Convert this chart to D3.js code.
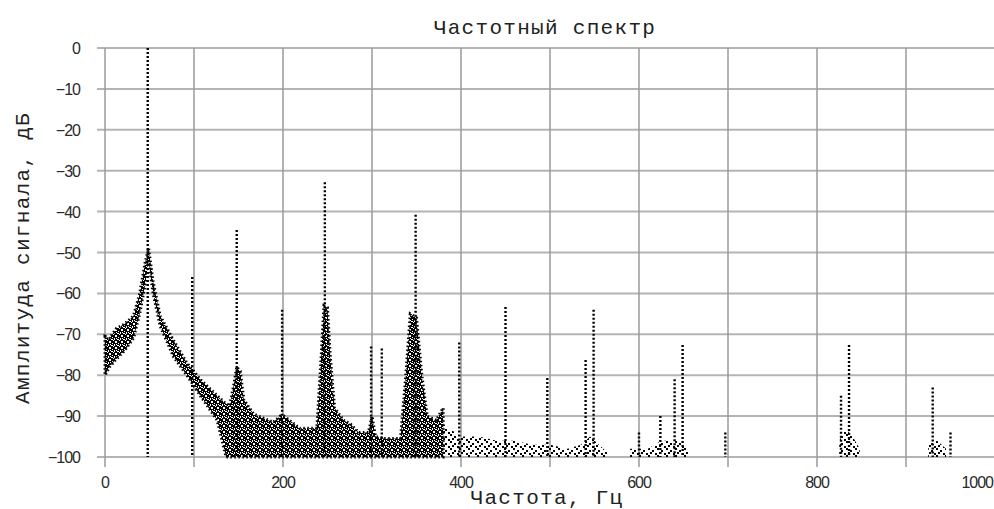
<!DOCTYPE html>
<html>
<head>
<meta charset="utf-8">
<script src="https://cdn.jsdelivr.net/npm/d3@7"></script>
<style>
    body { margin: 0; background: #fff; }
    .grid-h { stroke: #b4b4b4; stroke-width: 2; }
    .grid-v { stroke: #9a9a9a; stroke-width: 1.5; }
    .tick-label { font-family: "Liberation Sans", Arial, sans-serif; font-size: 16px; fill: #2a2a2a; letter-spacing: -1px; }
    .caption { font-family: "Liberation Mono", "Courier New", monospace; font-size: 21px; fill: #222; letter-spacing: 1.3px; }
    .stem { stroke: #000; stroke-width: 2.4; stroke-dasharray: 2, 2; fill: none; }
    .fuzz { fill: none; stroke: #000; stroke-width: 3; stroke-dasharray: 1.5, 2.5; }
</style>
</head>
<body>
<svg class="scene"></svg>
<script>

//
// data
//

// spectral lines: frequency (Hz) and top of line (dB)
var peakFreq = [48, 98, 148, 199, 247, 299, 311, 349, 398, 450, 497, 540, 549, 600, 624, 640, 649, 697, 827, 836, 930, 950];
var peakTop  = [0, -56, -44.5, -64, -32.8, -73, -73.5, -40.8, -72, -63.3, -80.7, -76.3, -64, -94, -90, -81, -72.6, -94, -85, -72.6, -83, -94];

// dense noise cloud: frequency, upper and lower edge (dB)
var cloudFreq  = [0, 5, 13, 22, 32, 39, 45, 49, 54, 62, 77, 92, 107, 126, 136, 140, 145, 148, 152, 156, 167, 189, 197, 201, 219, 238, 243, 246, 250, 253, 258, 268, 276, 285, 296, 300, 304, 313, 332, 338, 343, 350, 356, 362, 372, 380];
var cloudUpper = [-70.5, -71, -68.5, -67.5, -65.5, -60, -52.5, -49, -57, -65.5, -71.5, -77, -81, -85, -87, -87.5, -82, -78, -79, -86, -89.5, -91.5, -90, -90, -93, -93, -75, -63, -63.5, -75, -88, -91, -92, -94, -94, -90, -95, -95.5, -95.5, -80, -65, -66, -80, -90, -91, -88];
var cloudLower = [-80, -78, -76, -74, -71, -65, -58, -52, -60, -68, -75.5, -80, -85, -91, -100, -100, -100, -100, -100, -100, -100, -100, -100, -100, -100, -100, -100, -100, -100, -100, -100, -100, -100, -100, -100, -100, -100, -100, -100, -100, -100, -100, -100, -100, -100, -100];

// sparse points near the floor (null = gap)
var sparseFreq  = [380, 400, 420, 440, 460, 480, 500, 520, 535, 545, 555, 565, 570, 590, 610, 625, 645, 655, 660, 825, 832, 840, 848, 850, 925, 935, 945];
var sparseUpper = [-92, -95, -95, -96, -96, -97, -97, -98, -97, -95, -97, -99, null, -98, -98, -96, -96, -98, null, -96, -93, -95, -98, null, -97, -96, -98];

var xTicks = [0, 100, 200, 300, 400, 500, 600, 700, 800, 900, 1000];
var xLabels = [0, 200, 400, 600, 800, 1000];
var yTicks = [0, -10, -20, -30, -40, -50, -60, -70, -80, -90, -100];

//
// scene
//

var width = 994,
    height = 509;

var scene = d3.select(".scene")
    .attr("width", width)
    .attr("height", height);

var x = d3.scaleLinear().domain([0, 1000]).range([105, 995]);
var y = d3.scaleLinear().domain([0, -100]).range([48, 457]);
var fmt = d3.format("d");

//
// patterns
//

var defs = scene.append("defs");

var dense = defs.append("pattern")
    .attr("id", "dense")
    .attr("width", 6)
    .attr("height", 6)
    .attr("patternUnits", "userSpaceOnUse");
dense.append("rect").attr("width", 6).attr("height", 6).attr("fill", "#000");
[[1, 0, 2, 1], [4, 1, 1, 1], [0, 2, 1, 2], [3, 3, 2, 1], [5, 4, 1, 1], [1, 5, 2, 1], [2, 2, 1, 1]].forEach(function (r) {
    dense.append("rect")
        .attr("x", r[0]).attr("y", r[1])
        .attr("width", r[2]).attr("height", r[3])
        .attr("fill", "#fff");
});

var sparse = defs.append("pattern")
    .attr("id", "sparse")
    .attr("width", 9)
    .attr("height", 7)
    .attr("patternUnits", "userSpaceOnUse");
[[0, 0], [4, 2], [7, 5], [2, 4]].forEach(function (r) {
    sparse.append("rect")
        .attr("x", r[0]).attr("y", r[1])
        .attr("width", 2).attr("height", 2)
        .attr("fill", "#000");
});

//
// grid
//

scene.append("g").selectAll("line")
    .data(yTicks)
    .enter().append("line")
    .attr("class", "grid-h")
    .attr("x1", x(0) - 8)
    .attr("x2", width)
    .attr("y1", function (d) { return y(d); })
    .attr("y2", function (d) { return y(d); });

scene.append("g").selectAll("line")
    .data(xTicks)
    .enter().append("line")
    .attr("class", "grid-v")
    .attr("x1", function (d) { return x(d); })
    .attr("x2", function (d) { return x(d); })
    .attr("y1", y(0))
    .attr("y2", y(-100) + 10);

//
// spectrum
//

var cloud = cloudFreq.map(function (f, i) {
    return { f: f, u: cloudUpper[i], l: cloudLower[i] };
});

var cloudArea = d3.area()
    .x(function (d) { return x(d.f); })
    .y0(function (d) { return y(d.l); })
    .y1(function (d) { return y(d.u); });

scene.append("path")
    .datum(cloud)
    .attr("fill", "url(#dense)")
    .attr("d", cloudArea);

// ragged edge of the cloud
scene.append("path")
    .datum(cloud)
    .attr("class", "fuzz")
    .attr("d", cloudArea);

var floor = sparseFreq.map(function (f, i) {
    return { f: f, u: sparseUpper[i] };
});

scene.append("path")
    .datum(floor)
    .attr("fill", "url(#sparse)")
    .attr("d", d3.area()
        .defined(function (d) { return d.u !== null; })
        .x(function (d) { return x(d.f); })
        .y0(y(-100))
        .y1(function (d) { return y(d.u); }));

scene.append("g").selectAll("line")
    .data(peakFreq)
    .enter().append("line")
    .attr("class", "stem")
    .attr("x1", function (d) { return x(d); })
    .attr("x2", function (d) { return x(d); })
    .attr("y1", function (d, i) { return y(peakTop[i]); })
    .attr("y2", y(-100));

//
// labels
//

scene.append("g").selectAll("text")
    .data(yTicks)
    .enter().append("text")
    .attr("class", "tick-label")
    .attr("x", 80)
    .attr("y", function (d) { return y(d) + 6; })
    .attr("text-anchor", "end")
    .text(function (d) { return fmt(d); });

scene.append("g").selectAll("text")
    .data(xLabels)
    .enter().append("text")
    .attr("class", "tick-label")
    .attr("x", function (d) { return Math.min(x(d), width - 1); })
    .attr("y", 488)
    .attr("text-anchor", function (d) { return x(d) > width - 20 ? "end" : "middle"; })
    .text(function (d) { return fmt(d); });

scene.append("text")
    .attr("class", "caption")
    .attr("x", 545)
    .attr("y", 34)
    .attr("text-anchor", "middle")
    .text("Частотный спектр");

scene.append("text")
    .attr("class", "caption")
    .attr("x", 547)
    .attr("y", 504)
    .attr("text-anchor", "middle")
    .text("Частота, Гц");

scene.append("text")
    .attr("class", "caption")
    .attr("transform", "translate(29,258) rotate(-90)")
    .attr("text-anchor", "middle")
    .text("Амплитуда сигнала, дБ");

</script>
</body>
</html>
